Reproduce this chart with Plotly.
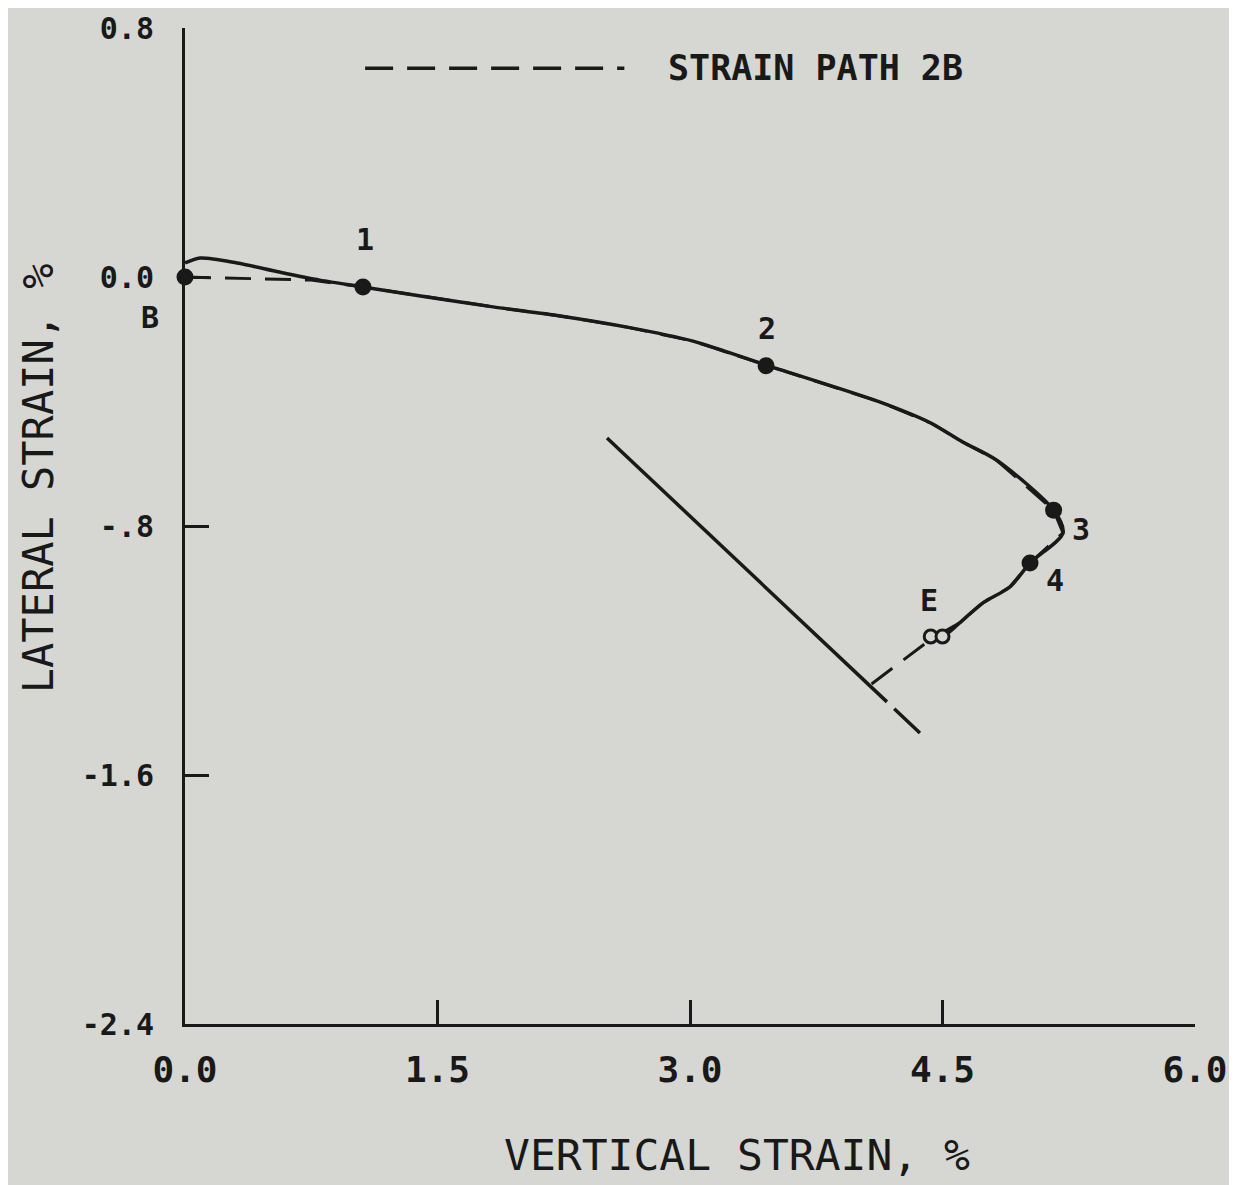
import plotly.graph_objects as go

# Measured strain curve (solid)
curve_x = [0.0, 0.09, 0.31, 0.56, 0.80, 1.057, 1.438, 1.83, 2.228, 2.626, 3.018, 3.238, 3.452, 4.13, 4.43, 4.62, 4.82, 5.16, 5.216,
           5.02, 4.90, 4.74, 4.60, 4.53, 4.44]
curve_y = [0.045, 0.061, 0.045, 0.016, -0.01, -0.032, -0.064, -0.096, -0.125, -0.161, -0.206, -0.244, -0.283, -0.402, -0.469, -0.53, -0.588, -0.749, -0.822,
           -0.919, -0.996, -1.047, -1.112, -1.144, -1.16]

# Prescribed strain path 2B (dashed)
path_x = [0.0, 0.75, 1.057, 1.438, 1.83, 2.228, 2.626, 3.018, 3.238, 3.452, 4.13, 4.43, 4.62, 4.82, 5.16, 5.216, 5.02, 4.90, 4.74, 4.60, 4.44, 4.07]
path_y = [0.0, -0.01, -0.032, -0.064, -0.096, -0.125, -0.161, -0.206, -0.244, -0.283, -0.402, -0.469, -0.53, -0.588, -0.749, -0.822, -0.919, -0.996, -1.047, -1.112, -1.16, -1.311]

# Separate straight line (solid part and dashed extension)
line_x = [2.507, 4.17]
line_y = [-0.517, -1.365]
ext_x = [4.17, 4.366]
ext_y = [-1.365, -1.465]

# Marked points
pt_x = [0.0, 1.057, 3.452, 5.16, 5.02]
pt_y = [0.0, -0.032, -0.285, -0.749, -0.919]
end_x = [4.43, 4.50]
end_y = [-1.155, -1.155]

# Point labels
lab_text = ["1", "2", "3", "4", "E"]
lab_x = [1.07, 3.46, 5.32, 5.17, 4.42]
lab_y = [0.12, -0.165, -0.81, -0.975, -1.04]
b_label = "B"
b_y = -0.13

# Legend sample
leg_x = [1.07, 2.61]
leg_y = [0.671, 0.671]
leg_text = "STRAIN PATH 2B"

x_ticks = [0.0, 1.5, 3.0, 4.5, 6.0]
x_ticktext = ["0.0", "1.5", "3.0", "4.5", "6.0"]
y_ticks = [0.8, 0.0, -0.8, -1.6, -2.4]
y_ticktext = ["0.8", "0.0", "-.8", "-1.6", "-2.4"]
x_title = "VERTICAL STRAIN, %"
y_title = "LATERAL STRAIN, %"

INK = "rgb(25,25,25)"
BG = "rgb(214,214,210)"
FONT = "DejaVu Sans Mono"

fig = go.Figure()
fig.add_trace(go.Scatter(x=path_x, y=path_y, mode="lines",
                         line=dict(color=INK, width=3, dash="26px,14px"), cliponaxis=False, showlegend=False))
fig.add_trace(go.Scatter(x=curve_x, y=curve_y, mode="lines",
                         line=dict(color=INK, width=3.5, shape="spline", smoothing=0.8), cliponaxis=False, showlegend=False))
fig.add_trace(go.Scatter(x=line_x, y=line_y, mode="lines",
                         line=dict(color=INK, width=3.5), showlegend=False))
fig.add_trace(go.Scatter(x=ext_x, y=ext_y, mode="lines",
                         line=dict(color=INK, width=3.5, dash="0px,10px,40px"), showlegend=False))
fig.add_trace(go.Scatter(x=pt_x, y=pt_y, mode="markers",
                         marker=dict(color=INK, size=17), cliponaxis=False, showlegend=False))
fig.add_trace(go.Scatter(x=end_x, y=end_y, mode="markers",
                         marker=dict(color=BG, size=13, line=dict(color=INK, width=3)), showlegend=False))
fig.add_trace(go.Scatter(x=leg_x, y=leg_y, mode="lines",
                         line=dict(color=INK, width=3.5, dash="28px,14px"), showlegend=False))

for t, x, y in zip(lab_text, lab_x, lab_y):
    fig.add_annotation(x=x, y=y, text=t, showarrow=False,
                       font=dict(family=FONT, size=30, color=INK, weight="bold"))
fig.add_annotation(xref="paper", x=-0.035, y=b_y, text=b_label, showarrow=False,
                   xanchor="center", yanchor="middle",
                   font=dict(family=FONT, size=30, color=INK, weight="bold"))
fig.add_annotation(x=2.86, y=0.671, text=leg_text, showarrow=False, xanchor="left",
                   font=dict(family=FONT, size=35, color=INK, weight="bold"))
fig.add_annotation(x=3.28, xref="x", y=-0.1315, yref="paper", text=x_title, showarrow=False,
                   xanchor="center", yanchor="middle",
                   font=dict(family=FONT, size=43, color=INK))
fig.add_annotation(x=-0.1455, xref="paper", y=0.548, yref="paper", text=y_title, showarrow=False,
                   xanchor="center", yanchor="middle",
                   textangle=-90, font=dict(family=FONT, size=42, color=INK))

fig.update_layout(
    width=1229, height=1177,
    margin=dict(l=177, r=42, t=20, b=161, autoexpand=False),
    paper_bgcolor=BG, plot_bgcolor=BG,
    font=dict(family=FONT, color=INK),
)
fig.update_xaxes(range=[0, 6], tickvals=x_ticks, ticktext=x_ticktext, automargin=False,
                 showgrid=False, zeroline=False, showline=True, linecolor=INK, linewidth=3,
                 ticks="inside", ticklen=24, tickwidth=3, tickcolor=INK,
                 ticklabelstandoff=12,
                 tickfont=dict(family=FONT, size=36, color=INK, weight="bold"))
fig.update_yaxes(range=[-2.4, 0.8], tickvals=y_ticks, ticktext=y_ticktext, automargin=False,
                 showgrid=False, zeroline=False, showline=True, linecolor=INK, linewidth=3,
                 ticks="inside", ticklen=24, tickwidth=3, tickcolor=INK,
                 ticklabelstandoff=22,
                 tickfont=dict(family=FONT, size=30, color=INK, weight="bold"))

fig.write_html("out.html")
